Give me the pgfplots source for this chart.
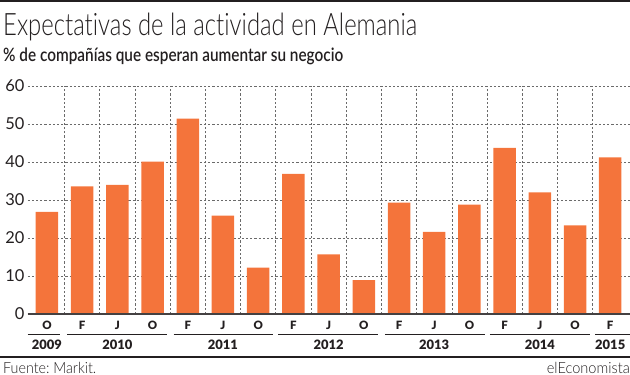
\documentclass[border=0pt]{standalone}
\usepackage{fontspec}
\usepackage{graphicx}
\usepackage{pgfplots}
\pgfplotsset{compat=1.18}
\setmainfont{Lato}[Ligatures=NoCommon]
\newfontfamily\lightfont{Lato Light}[Ligatures=NoCommon]
\newfontfamily\semifont{Lato Semibold}[Ligatures=NoCommon]
\newfontfamily\blackfont{Lato Black}
\definecolor{barorange}{HTML}{F4743B}
\definecolor{txt}{HTML}{231F20}
\definecolor{gridc}{HTML}{6A6A6A}
\tikzset{yearlab/.style={anchor=base, inner sep=0pt, text=txt, font=\blackfont\fontsize{13}{13}\selectfont}}
\begin{document}
\begin{tikzpicture}
\useasboundingbox (0,0) rectangle (630bp,375bp);
\draw[txt, line width=2bp] (0,374bp) -- (630bp,374bp);
\node[anchor=base west, inner sep=0pt, text=txt] at (3bp,339.3bp)
  {\resizebox{414bp}{\height}{\lightfont\fontsize{31}{31}\selectfont Expectativas de la actividad en Alemania}};
\node[anchor=base west, inner sep=0pt, text=txt] at (3bp,313.7bp)
  {\resizebox{340bp}{\height}{\semifont\fontsize{18.5}{18.5}\selectfont \% de compañías que esperan aumentar su negocio}};
\draw[txt, line width=1.2bp] (0,18bp) -- (630bp,18bp);
\node[anchor=base west, inner sep=0pt, text=txt] at (3bp,1.5bp)
  {\resizebox{93bp}{\height}{\lightfont\fontsize{15.5}{15.5}\selectfont Fuente:\hspace{-0.1em} Markit.}};
\node[anchor=base east, inner sep=0pt, text=txt] at (630bp,1.5bp)
  {\resizebox{83bp}{\height}{\lightfont\fontsize{15.5}{15.5}\selectfont elEconomista}};
\begin{axis}[
  at={(27.6bp,61bp)}, anchor=south west,
  scale only axis, width=602bp, height=228bp,
  xmin=-0.55, xmax=16.55, ymin=0, ymax=60,
  clip=false,
  axis line style={draw=none},
  major tick length=0pt, minor tick length=0pt,
  xtick={0,...,16},
  xticklabels={O,F,J,O,F,J,O,F,J,O,F,J,O,F,J,O,F},
  minor xtick={0.5,1.5,...,15.5},
  xminorgrids, ymajorgrids,
  ytick={0,10,...,60},
  grid style={gridc, dash pattern=on 2.2bp off 2bp, line width=0.6bp},
  minor grid style={gridc, dash pattern=on 2.2bp off 2bp, line width=0.6bp},
  /pgf/number format/assume math mode=true,
  xticklabel style={font=\blackfont\fontsize{11.5}{11.5}\selectfont, text=txt, anchor=base, inner sep=0pt, yshift=-15.3bp},
  yticklabel style={font=\fontsize{16.5}{16.5}\selectfont, text=txt, anchor=east, inner sep=0pt, xshift=-3bp},
]
\addplot[ybar, bar width=22.5bp, fill=barorange, draw=none] coordinates {
(0,26.9) (1,33.6) (2,34.0) (3,40.1) (4,51.4) (5,25.9) (6,12.2) (7,36.9) (8,15.7)
(9,8.9) (10,29.3) (11,21.6) (12,28.8) (13,43.7) (14,32.0) (15,23.3) (16,41.2)};
\draw[txt!85, line width=1.5bp] (axis cs:-0.55,0) -- (axis cs:16.55,0);
\draw[txt, line width=0.9bp] (axis cs:-0.55,-5.26) -- (axis cs:0.36,-5.26);
\draw[txt, line width=0.9bp] (axis cs:0.58,-5.26) -- (axis cs:3.4,-5.26);
\draw[txt, line width=0.9bp] (axis cs:3.6,-5.26) -- (axis cs:6.42,-5.26);
\draw[txt, line width=0.9bp] (axis cs:6.57,-5.26) -- (axis cs:9.4,-5.26);
\draw[txt, line width=0.9bp] (axis cs:9.6,-5.26) -- (axis cs:12.43,-5.26);
\draw[txt, line width=0.9bp] (axis cs:12.58,-5.26) -- (axis cs:15.42,-5.26);
\draw[txt, line width=0.9bp] (axis cs:15.57,-5.26) -- (axis cs:16.55,-5.26);
\node[yearlab] at (axis cs:0,-9.47) {2009};
\node[yearlab] at (axis cs:2,-9.47) {2010};
\node[yearlab] at (axis cs:5,-9.47) {2011};
\node[yearlab] at (axis cs:8,-9.47) {2012};
\node[yearlab] at (axis cs:11,-9.47) {2013};
\node[yearlab] at (axis cs:14,-9.47) {2014};
\node[yearlab] at (axis cs:16,-9.47) {2015};
\end{axis}
\end{tikzpicture}
\end{document}
